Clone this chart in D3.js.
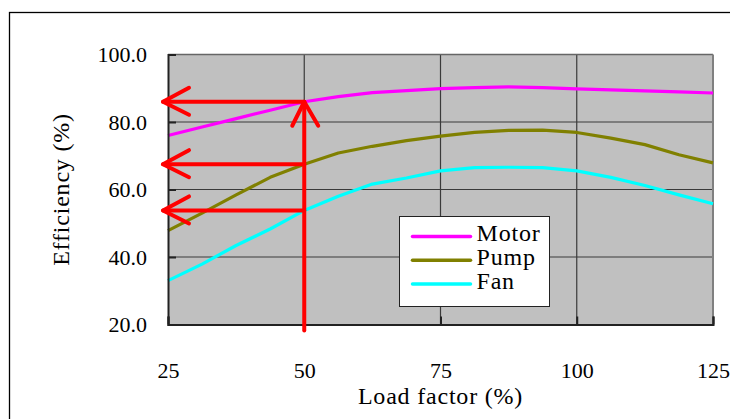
<!DOCTYPE html>
<html>
<head>
<meta charset="utf-8">
<script src="https://cdn.jsdelivr.net/npm/d3@7/dist/d3.min.js"></script>
<style>
  html, body { margin: 0; padding: 0; background: #ffffff; }
  svg { display: block; }
</style>
</head>
<body>
<svg id="chart" width="730" height="419"></svg>
<script>
// Load factor (%) at which each efficiency was sampled
const loadFactor = [25, 31.25, 37.5, 43.75, 50, 56.25, 62.5, 68.75, 75, 81.25, 87.5, 93.75, 100, 106.25, 112.5, 118.75, 125];

// Efficiency (%) of each component
const motorEff = [76.0, 78.5, 81.0, 83.5, 86.0, 87.5, 88.7, 89.3, 89.9, 90.2, 90.4, 90.2, 89.8, 89.5, 89.2, 88.9, 88.6];
const pumpEff  = [47.8, 53.0, 58.4, 63.6, 67.5, 70.8, 72.8, 74.5, 75.8, 76.9, 77.5, 77.6, 76.9, 75.2, 73.3, 70.3, 67.9];
const fanEff   = [33.0, 37.9, 43.4, 48.3, 53.8, 58.0, 61.6, 63.4, 65.5, 66.5, 66.6, 66.5, 65.5, 63.6, 61.2, 58.4, 55.8];

const seriesNames  = ["Motor", "Pump", "Fan"];
const seriesColors = ["#ff00ff", "#808000", "#00ffff"];

const xTicks = [25, 50, 75, 100, 125];
const yTicks = [20, 40, 60, 80, 100];

// Load factor with arrows
const readLoad = 50;

const FONT = "'Liberation Serif', 'Times New Roman', serif";

const series = seriesNames.map((name, i) => ({
  name,
  color: seriesColors[i],
  values: [motorEff, pumpEff, fanEff][i]
}));

const svg = d3.select("#chart");

// Outer frame
svg.append("rect")
  .attr("x", 9.5).attr("y", 12.5)
  .attr("width", 740).attr("height", 430)
  .attr("fill", "#fff").attr("stroke", "#000").attr("stroke-width", 1.3);

const plot = { left: 168, top: 54.5, right: 713, bottom: 324.5 };

const x = d3.scaleLinear().domain([25, 125]).range([plot.left, plot.right]);
const y = d3.scaleLinear().domain([20, 100]).range([plot.bottom, plot.top]);

// Plot area
svg.append("rect")
  .attr("x", plot.left).attr("y", plot.top)
  .attr("width", plot.right - plot.left).attr("height", plot.bottom - plot.top)
  .attr("fill", "#c0c0c0");

// Gridlines
const grid = svg.append("g").attr("stroke", "#3a3a3a").attr("stroke-width", 1.2);
grid.selectAll("line.h").data(yTicks.slice(1, -1)).join("line")
  .attr("x1", plot.left).attr("x2", plot.right)
  .attr("y1", d => y(d)).attr("y2", d => y(d));
grid.selectAll("line.v").data(xTicks.slice(1, -1)).join("line")
  .attr("y1", plot.top).attr("y2", plot.bottom)
  .attr("x1", d => x(d)).attr("x2", d => x(d));

// Top and right border of the plot area
svg.append("line")
  .attr("x1", plot.left).attr("x2", plot.right)
  .attr("y1", plot.top).attr("y2", plot.top)
  .attr("stroke", "#666").attr("stroke-width", 1.5);
svg.append("line")
  .attr("x1", plot.right).attr("x2", plot.right)
  .attr("y1", plot.top).attr("y2", plot.bottom)
  .attr("stroke", "#808080").attr("stroke-width", 2);

// Efficiency curves
const line = d3.line()
  .x((d, i) => x(loadFactor[i]))
  .y(d => y(d));

svg.append("g").selectAll("path").data(series).join("path")
  .attr("d", s => line(s.values))
  .attr("fill", "none")
  .attr("stroke", s => s.color)
  .attr("stroke-width", 3.2)
  .attr("stroke-linejoin", "round");

// Axes
const yAxis = d3.axisLeft(y)
  .tickValues(yTicks)
  .tickSize(-8)
  .tickPadding(21)
  .tickFormat(d3.format(".1f"));
const xAxis = d3.axisBottom(x)
  .tickValues(xTicks)
  .tickSize(-8)
  .tickPadding(38)
  .tickFormat(d3.format("d"));

const gy = svg.append("g").attr("transform", `translate(${plot.left},0)`).call(yAxis);
const gx = svg.append("g").attr("transform", `translate(0,${plot.bottom})`).call(xAxis);

[gx, gy].forEach(g => {
  g.attr("font-family", null).attr("font-size", null);
  g.select(".domain").attr("stroke", "#222").attr("stroke-width", 2);
  g.selectAll(".tick line").attr("stroke", "#222").attr("stroke-width", 2);
  g.selectAll(".tick text")
    .style("font-family", FONT)
    .style("font-size", "22px")
    .attr("fill", "#000");
});

// Axis titles
svg.append("text")
  .attr("x", (plot.left + plot.right) / 2).attr("y", 404)
  .attr("text-anchor", "middle")
  .style("font-family", FONT)
  .style("font-size", "24px")
  .attr("letter-spacing", 0.8)
  .text("Load factor (%)");

svg.append("text")
  .attr("transform", `translate(68.5,${(plot.top + plot.bottom) / 2}) rotate(-90)`)
  .attr("text-anchor", "middle")
  .style("font-family", FONT)
  .style("font-size", "24px")
  .attr("letter-spacing", 0.8)
  .text("Efficiency (%)");

// Legend
const legend = svg.append("g").attr("transform", "translate(399.5,216.5)");
legend.append("rect")
  .attr("width", 150).attr("height", 90)
  .attr("fill", "#fff").attr("stroke", "#222").attr("stroke-width", 1);
const item = legend.selectAll("g.item").data(series).join("g")
  .attr("class", "item")
  .attr("transform", (d, i) => `translate(0,${20 + i * 23.8})`);
item.append("line")
  .attr("x1", 13).attr("x2", 71)
  .attr("stroke", d => d.color).attr("stroke-width", 3.5)
  .attr("stroke-linecap", "round");
item.append("text")
  .attr("x", 77).attr("y", 4.5)
  .style("font-family", FONT)
  .style("font-size", "24px")
  .attr("letter-spacing", 0.8)
  .text(d => d.name);

// Read-off arrows at the chosen load factor
const arrows = svg.append("g")
  .attr("stroke", "#ff0000").attr("stroke-width", 4)
  .attr("stroke-linecap", "round").attr("stroke-linejoin", "round")
  .attr("fill", "none");

const idx = loadFactor.indexOf(readLoad);
const xr = x(readLoad);
const topVal = d3.max(series, s => s.values[idx]);
const tipLeft = plot.left - 5;

// vertical arrow rising from the load axis
arrows.append("line")
  .attr("x1", xr).attr("x2", xr)
  .attr("y1", plot.bottom + 6).attr("y2", y(topVal));
arrows.append("path")
  .attr("d", `M${xr - 12},${y(topVal) + 24} L${xr},${y(topVal)} L${xr + 14},${y(topVal) + 24}`);

// horizontal arrows pointing to the efficiency axis
series.forEach(s => {
  const yy = y(s.values[idx]);
  arrows.append("line")
    .attr("x1", xr).attr("x2", tipLeft)
    .attr("y1", yy).attr("y2", yy);
  arrows.append("path")
    .attr("d", `M${tipLeft + 26},${yy - 14} L${tipLeft},${yy} L${tipLeft + 26},${yy + 13}`);
});
</script>
</body>
</html>
